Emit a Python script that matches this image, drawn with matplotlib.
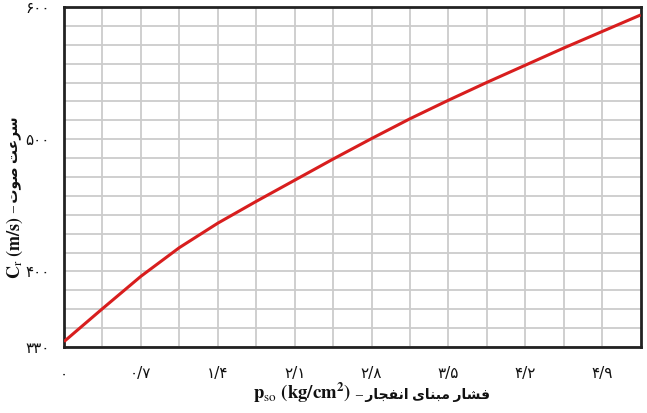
import numpy as np
import matplotlib
matplotlib.use('Agg')
import matplotlib.pyplot as plt
from matplotlib.ticker import FixedLocator

# ---------------- data ----------------
p_so = [0, 0.35, 0.7, 1.05, 1.4, 1.75, 2.1, 2.45, 2.8, 3.15, 3.5, 3.85, 4.2, 4.55, 4.9, 5.25]
c_r = [335, 365.5, 395.5, 418, 436.5, 453, 469, 485, 500.5, 515.5, 529.5, 543, 556, 569, 581.5, 594]

x_ticks = [0, 0.7, 1.4, 2.1, 2.8, 3.5, 4.2, 4.9]
x_tick_labels = ['۰', '۰/۷', '۱/۴', '۲/۱', '۲/۸', '۳/۵', '۴/۲', '۴/۹']
y_ticks = [330, 400, 500, 600]
y_tick_labels = ['۳۳۰', '۴۰۰', '۵۰۰', '۶۰۰']

x_label_fa = 'فشار مبنای انفجار'
y_label_fa = 'سرعت صوت'

# ---------------- simple Persian shaping (presentation forms) ----------------
FORMS = {
    'ا': (0xFE8D, 0xFE8E, None, None),
    'ب': (0xFE8F, 0xFE90, 0xFE91, 0xFE92),
    'ت': (0xFE95, 0xFE96, 0xFE97, 0xFE98),
    'ج': (0xFE9D, 0xFE9E, 0xFE9F, 0xFEA0),
    'ر': (0xFEAD, 0xFEAE, None, None),
    'س': (0xFEB1, 0xFEB2, 0xFEB3, 0xFEB4),
    'ش': (0xFEB5, 0xFEB6, 0xFEB7, 0xFEB8),
    'ص': (0xFEB9, 0xFEBA, 0xFEBB, 0xFEBC),
    'ع': (0xFEC9, 0xFECA, 0xFECB, 0xFECC),
    'ف': (0xFED1, 0xFED2, 0xFED3, 0xFED4),
    'م': (0xFEE1, 0xFEE2, 0xFEE3, 0xFEE4),
    'ن': (0xFEE5, 0xFEE6, 0xFEE7, 0xFEE8),
    'و': (0xFEED, 0xFEEE, None, None),
    'ی': (0xFEEF, 0xFEF0, 0xFEF3, 0xFEF4),
}


def dual(ch):
    return ch in FORMS and FORMS[ch][2] is not None


def shape_rtl(s):
    out = []
    for i, ch in enumerate(s):
        if ch not in FORMS:
            out.append(ch)
            continue
        prev = s[i - 1] if i > 0 else ''
        nxt = s[i + 1] if i + 1 < len(s) else ''
        jp = dual(prev)
        jn = dual(ch) and nxt in FORMS
        iso, fin, ini, med = FORMS[ch]
        if jp and jn:
            code = med
        elif jp:
            code = fin
        elif jn:
            code = ini
        else:
            code = iso
        out.append(chr(code))
    return ''.join(reversed(out))


plt.rcParams['mathtext.fontset'] = 'stix'
FAM = ['Liberation Serif', 'DejaVu Sans']

# ---------------- figure ----------------
W, H = 647, 413
fig = plt.figure(figsize=(W / 100, H / 100), dpi=100)
ax = fig.add_axes([64 / W, 1 - 347 / H, (640.7 - 64) / W, (347 - 7) / H])

k = (100 / 7 * 4) / 70.0


def fwd(y):
    y = np.asarray(y, float)
    return np.where(y >= 400, y, 400 - (400 - y) * k)


def inv(t):
    t = np.asarray(t, float)
    return np.where(t >= 400, t, 400 - (400 - t) / k)


ax.set_yscale('function', functions=(fwd, inv))
ax.set_xlim(0, 5.25)
ax.set_ylim(330, 600)

ax.plot(p_so, c_r, color='#d81e1e', lw=2.2, zorder=3, solid_capstyle='butt')

ax.xaxis.set_major_locator(FixedLocator(x_ticks))
ax.set_xticklabels(x_tick_labels)
ax.xaxis.set_minor_locator(FixedLocator([0.35 * i for i in range(1, 15, 2)]))
ax.yaxis.set_major_locator(FixedLocator(y_ticks))
ax.set_yticklabels(y_tick_labels)
ymin = [400 + i * 100 / 7 for i in range(1, 14) if i != 7] + [347.5, 365, 382.5]
ax.yaxis.set_minor_locator(FixedLocator(ymin))

ax.grid(True, which='both', color='#cccccc', lw=1.3, zorder=1)
ax.set_axisbelow(True)
for sp in ax.spines.values():
    sp.set_linewidth(2)
    sp.set_color('#222222')
ax.tick_params(which='both', length=0)
ax.tick_params(axis='x', pad=14, labelsize=11)
ax.tick_params(axis='y', pad=10, labelsize=11)
for lab in ax.get_xticklabels() + ax.get_yticklabels():
    lab.set_family(['DejaVu Sans'])
    lab.set_color('#111111')

# ---------------- axis labels (Persian + Latin parts) ----------------
inv_fig = fig.transFigure.inverted()
tx = fig.text(490 / W, 1 - 399 / H, '– ' + shape_rtl(x_label_fa), ha='right', va='baseline',
              fontsize=10, fontweight='bold', family=FAM, color='#111111')
ly = fig.text(15 / W, 1 - 279 / H, r'$\mathbf{C}_{\mathrm{r}}\ \mathbf{(m/s)}$', ha='center', va='bottom',
              rotation=90, fontsize=13, color='#111111')
fig.canvas.draw()
r = fig.canvas.get_renderer()
bx = tx.get_window_extent(r)
bly = ly.get_window_extent(r)
x0 = inv_fig.transform((bx.x0 - 4, 0))[0]
fig.text(x0, 1 - 399 / H, r'$\mathbf{p}_{\mathrm{so}}\ \mathbf{(kg/cm^{2})}$', ha='right', va='baseline',
         fontsize=13.5, color='#111111')
y1 = inv_fig.transform((0, bly.y1 + 3))[1]
fig.text(15 / W, y1, '– ' + shape_rtl(y_label_fa), ha='center', va='bottom',
         rotation=90, fontsize=10, fontweight='bold', family=FAM, color='#111111')

fig.savefig('out.png', dpi=100)
